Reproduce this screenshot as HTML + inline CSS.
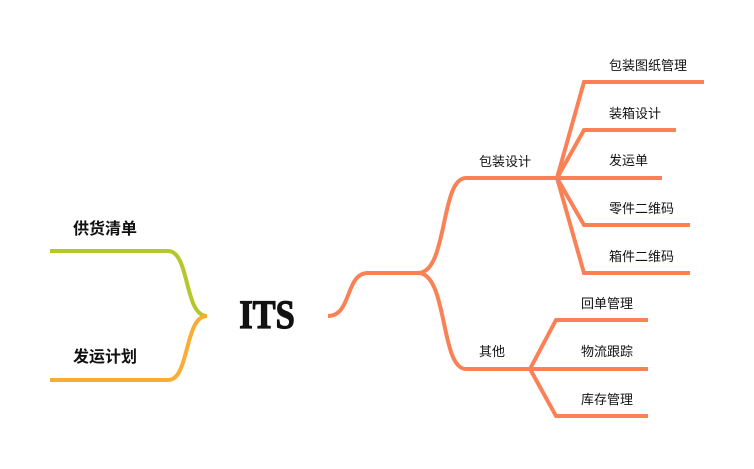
<!DOCTYPE html>
<html><head><meta charset="utf-8"><style>
html,body{margin:0;padding:0;background:#fff;}
body{width:754px;height:469px;overflow:hidden;position:relative;}
svg{position:absolute;left:0;top:0;}
</style></head><body>
<svg width="754" height="469" viewBox="0 0 754 469" xmlns="http://www.w3.org/2000/svg">
<g fill="none" stroke-width="4" stroke-linecap="butt">
<path d="M50,251 L168,251 C190,251 184,316 207,316" stroke="#b5c72a"/>
<path d="M207,316 C184,316 190,380 168,380 L50,380" stroke="#fbac35"/>
<g stroke="#fa8156">
<path d="M328,316 C352,316 345,273 368,273 L420,273"/>
<path d="M418,273 C448,273 440,178 466,178 L557,178"/>
<path d="M418,273 C448,273 440,369 466,369 L530,369"/>
<path d="M557,178 L584,82 L704,82"/>
<path d="M557,178 L584,130 L676,130"/>
<path d="M557,178 L662,178"/>
<path d="M557,178 L584,225 L690,225"/>
<path d="M557,178 L584,273 L690,273"/>
<path d="M530,369 L556,320 L648,320"/>
<path d="M530,369 L648,369"/>
<path d="M530,369 L556,416 L648,416"/>
</g>
</g>
<g font-family="'Liberation Sans','Noto Sans CJK SC',sans-serif" fill="#111">
<text x="73" y="234" font-size="16" font-weight="bold">供货清单</text>
<text x="73" y="362" font-size="16" font-weight="bold">发运计划</text>
<text x="267" y="328" font-size="40" font-weight="bold" text-anchor="middle" font-family="'Liberation Serif',serif" stroke="#111" stroke-width="1.2" transform="translate(267,0) scale(0.86,1) translate(-267,0)">ITS</text>
<g font-size="13">
<text x="479" y="166">包装设计</text>
<text x="479" y="356">其他</text>
<text x="609" y="70">包装图纸管理</text>
<text x="609" y="118">装箱设计</text>
<text x="609" y="165">发运单</text>
<text x="609" y="213">零件二维码</text>
<text x="609" y="261">箱件二维码</text>
<text x="581" y="308">回单管理</text>
<text x="581" y="356">物流跟踪</text>
<text x="581" y="404">库存管理</text>
</g>
</g>
</svg>
</body></html>
